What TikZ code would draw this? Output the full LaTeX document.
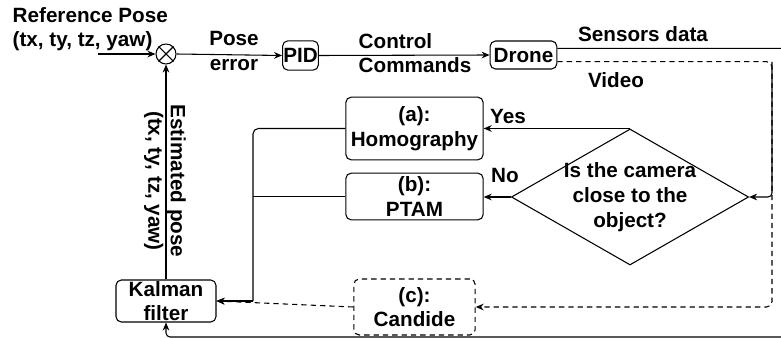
\documentclass[tikz,border=0pt]{standalone}
\usepackage{fontspec}
\setmainfont{Liberation Sans}
\usetikzlibrary{shapes.geometric,arrows.meta}

\begin{document}
\begin{tikzpicture}[
  x=0.75pt, y=-0.75pt,
  every node/.style={font=\fontsize{15.5}{18.5}\selectfont\bfseries, align=center},
  box/.style={draw, rounded corners=4pt, inner sep=0.5pt, line width=0.8pt},
  flow/.style={line width=0.8pt, -{Stealth[length=6pt,width=5pt]}},
  wire/.style={line width=0.8pt},
  dashline/.style={dash pattern=on 4pt off 3pt}
]
\useasboundingbox (0,0) rectangle (781,338);

% forward loop: sum, PID, drone
\node[circle, draw, line width=0.8pt, minimum size=15pt, inner sep=0pt] (sum) at (166,54) {};
\draw[wire] (sum.north west) -- (sum.south east) (sum.north east) -- (sum.south west);
\node[box, minimum width=26pt, minimum height=22pt] (pid) at (300.5,55.5) {PID};
\node[box, minimum width=50pt, minimum height=21pt] (drone) at (523.5,55) {Drone};

% pose estimation blocks
\node[box, minimum width=103pt, minimum height=47pt] (homog) at (414.5,128.5) {(a):\\Homography};
\node[box, minimum width=103pt, minimum height=35pt] (ptam) at (414.5,196.5) {(b):\\PTAM};
\node[box, dashline, minimum width=91pt, minimum height=42pt] (candide) at (414.5,307) {(c):\\Candide};
\node[box, minimum width=75pt, minimum height=31.5pt, inner sep=0pt] (kalman) at (166,301) {Kalman\\filter};
\node[diamond, draw, line width=0.8pt, aspect=1.745, inner sep=-2pt,
      minimum width=177pt, minimum height=102pt] (close) at (630,197) {Is the camera\\close to the\\object?};

% labels
\node[anchor=west, align=left] (reflbl) at (8,29) {Reference Pose\\(tx, ty, tz, yaw)};
\node (poselbl) at (234,51) {Pose\\error};
\node[anchor=west, align=left] (cmdlbl) at (354,53) {Control\\Commands};
\node (senslbl) at (643,34) {Sensors data};
\node (vidlbl) at (616,80) {Video};
\node (yeslbl) at (508,116) {Yes};
\node (nolbl) at (505,175) {No};
\node[rotate=-90, font=\fontsize{15.5}{17}\selectfont\bfseries] (estlbl) at (165,181) {Estimated pose\\(tx, ty, tz, yaw)};

% helper points
\coordinate (in) at (98,54);
\coordinate (join) at (253,301);
\coordinate (vid) at (772,62);
\coordinate (edge) at (787,337);

% connectors
\draw[flow] (in) -- (sum.west);
\draw[flow] (sum.east) -- (pid.west);
\draw[flow] (pid.east) -- (drone.west);
\draw[flow] (close.north) -- (homog.east |- close.north);
\draw[flow] (close.west) -- (ptam.east |- close.west);
\draw[wire, rounded corners=4pt] (homog.west) -| (join);
\draw[wire] (ptam.west) -- (ptam.west -| join);
\draw[flow] (join) -- (kalman.east);
\draw[flow, dashline] (candide.west) -- (kalman.east);
\draw[flow] (kalman.north) -- (sum.south);
% sensors data back to the filter
\draw[flow, rounded corners=3pt] ([yshift=5pt]drone.east) -- ([yshift=5pt]drone.east -| edge) -- (edge) -| (kalman.south);
% video to the vision part
\draw[flow, dashline, rounded corners=4pt] ([yshift=-5pt]drone.east) -| (vid |- candide.east) -- (candide.east);
\draw[flow, rounded corners=3pt] (vid) |- (close.east);
\end{tikzpicture}
\end{document}
